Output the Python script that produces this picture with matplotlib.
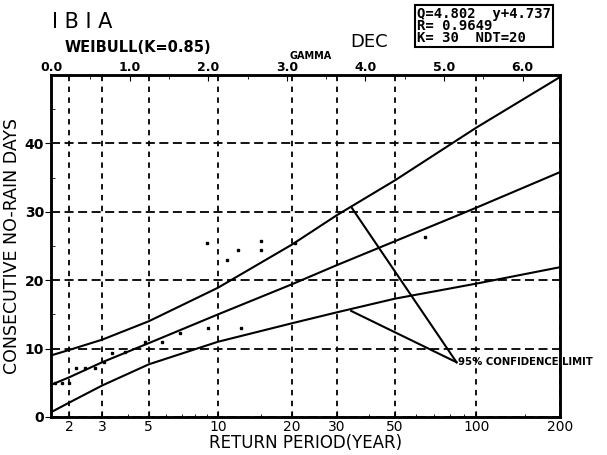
import numpy as np
import matplotlib
matplotlib.use('Agg')
import matplotlib.pyplot as plt

# return periods (years) used for the fitted line and the 95% bands
ret_period = [1.5, 2, 3, 5, 10, 20, 30, 50, 100, 200]
fit_line = [4.7, 5.8, 8.0, 10.8, 15.0, 19.4, 22.2, 25.7, 30.6, 35.8]
upper_lim = [9.0, 9.8, 11.3, 14.0, 18.9, 25.2, 29.5, 34.6, 42.3, 49.7]
lower_lim = [0.7, 2.1, 4.6, 7.7, 11.0, 13.7, 15.3, 17.3, 19.5, 21.9]

# observed points
obs_T = [1.62, 1.81, 2.0, 2.19, 2.45, 2.77, 3.06, 3.35, 3.87, 4.8, 5.73,
         6.87, 9.05, 12.5, 8.97, 10.9, 12.1, 15.1, 15.1, 20.5, 64.5]
obs_Q = [5.0, 5.0, 5.0, 7.2, 7.2, 7.2, 8.0, 9.3, 9.5, 11.0, 11.0,
         12.3, 13.0, 13.0, 25.5, 23.0, 24.4, 24.4, 25.8, 25.4, 26.3]

# leader lines for the confidence-limit label
conf_T = [34.1, 84.7]
conf_up = [30.7, 8.0]
conf_lo = [15.5, 8.0]

ret_ticks = [2, 3, 5, 10, 20, 30, 50, 100, 200]
ret_minor = [4, 6, 7, 8, 9, 15, 40, 60, 70, 80, 90, 150]
wei_ticks = [0, 1, 2, 3, 4, 5, 6]
y_ticks = [0, 10, 20, 30, 40]

K = 0.85
LAM = 20 / 30  # NDT / K


def fwd(T):
    T = np.asarray(T, dtype=float)
    return np.log(np.maximum(T * LAM, 1.0)) ** (1 / K)


def inv(y):
    y = np.asarray(y, dtype=float)
    return np.exp(np.maximum(y, 0.0) ** K) / LAM


plt.rcParams['font.family'] = 'DejaVu Sans'

fig = plt.figure(figsize=(6.07, 4.55), dpi=100)
ax = fig.add_axes([51 / 607, 1 - 417 / 455, 509 / 607, 342 / 455])
ax.set_xscale('function', functions=(fwd, inv))
ax.set_xlim(1.5, 200)
ax.set_ylim(0, 50)

ax.plot(ret_period, upper_lim, color='black', lw=1.5)
ax.plot(ret_period, fit_line, color='black', lw=1.5)
ax.plot(ret_period, lower_lim, color='black', lw=1.5)
ax.plot(obs_T, obs_Q, 's', color='black', ms=1.8)
ax.plot(conf_T, conf_up, color='black', lw=1.5)
ax.plot(conf_T, conf_lo, color='black', lw=1.5)
ax.text(conf_T[1] * 1.01, conf_up[1], '95% CONFIDENCE LIMIT', fontsize=7.3,
        fontweight='bold', va='center', ha='left', clip_on=False)

ax.set_xticks(ret_ticks)
ax.set_xticklabels([str(t) for t in ret_ticks], fontsize=10)
ax.set_xticks(ret_minor, minor=True)
ax.set_yticks(y_ticks)
ax.set_yticklabels([str(t) for t in y_ticks], fontsize=10, fontweight='bold')
ax.set_yticks([5, 15, 25, 35, 45], minor=True)
ax.tick_params(axis='x', which='major', direction='in', length=4, pad=2)
ax.tick_params(axis='x', which='minor', direction='in', length=2)
ax.tick_params(axis='y', which='major', direction='out', length=4, pad=1)
ax.tick_params(axis='y', which='minor', direction='in', length=3)

ax.xaxis.grid(True, which='major', color='black', lw=1.3, linestyle=(0, (3, 3)))
ax.yaxis.grid(True, which='major', color='black', lw=1.3, linestyle=(0, (5, 2.5)))
for s in ax.spines.values():
    s.set_linewidth(1.8)

# top axis: Weibull reduced variate, linear across the frame
top = ax.twiny()
top.set_xlim(fwd(1.5), fwd(200))
top.set_xticks(wei_ticks)
top.set_xticklabels(['%.1f' % t for t in wei_ticks], fontsize=9, fontweight='bold')
top.set_xticks([0.5, 1.5, 2.5, 3.5, 4.5, 5.5], minor=True)
top.tick_params(which='major', direction='in', length=4, pad=1)
top.tick_params(which='minor', direction='in', length=3)
for s in top.spines.values():
    s.set_linewidth(1.8)

ax.set_xlabel('RETURN PERIOD(YEAR)', fontsize=12, labelpad=0)
ax.set_ylabel('CONSECUTIVE NO-RAIN DAYS', fontsize=12.5, labelpad=3)

fig.text(52 / 607, 1 - 22 / 455, 'I B I A', fontsize=15, va='center', ha='left')
fig.text(350 / 607, 1 - 42 / 455, 'DEC', fontsize=13, va='center', ha='left')
fig.text(65 / 607, 1 - 48 / 455, 'WEIBULL(K=0.85)', fontsize=10.5,
         fontweight='bold', va='center', ha='left')
fig.text(290 / 607, 1 - 56 / 455, 'GAMMA', fontsize=7, fontweight='bold',
         va='center', ha='left')
fig.text(417 / 607, 1 - 26 / 455, 'Q=4.802  y+4.737\nR= 0.9649\nK= 30  NDT=20',
         family='DejaVu Sans Mono', fontsize=10, fontweight='bold',
         va='center', ha='left', linespacing=0.8,
         bbox=dict(boxstyle='square,pad=0.15', fc='white', ec='black', lw=1.5))

fig.savefig('out.png', dpi=100)
